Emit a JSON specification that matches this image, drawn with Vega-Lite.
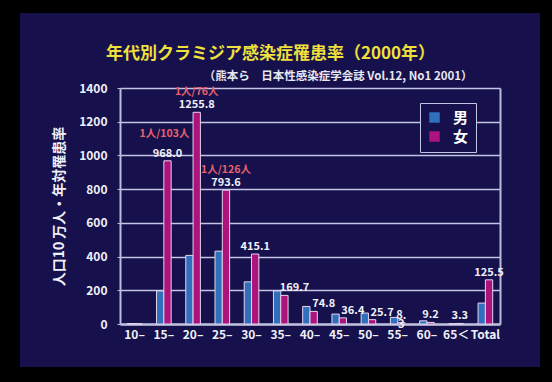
{
  "$schema": "https://vega.github.io/schema/vega-lite/v6.json",
  "width": 520,
  "height": 354,
  "autosize": {"type": "none"},
  "padding": {"left": 20, "top": 13, "right": 12, "bottom": 15},
  "background": "#000000",
  "title": {
    "text": "年代別クラミジア感染症罹患率（2000年）",
    "subtitle": "\u200b\u3000\u3000\u3000\u3000\u3000\u3000\u3000\u3000\u3000（熊本ら　日本性感染症学会誌 Vol.12, No1  2001）",
    "anchor": "start",
    "frame": "group",
    "orient": "top",
    "offset": -70,
    "dx": 86,
    "color": "#f0e03c",
    "fontSize": 17,
    "fontWeight": "bold",
    "font": "Noto Sans CJK JP",
    "subtitleColor": "#e8e8f2",
    "subtitleFontSize": 11.5,
    "subtitleFont": "Noto Sans CJK JP",
    "subtitleFontWeight": "bold",
    "subtitlePadding": 8
  },
  "data": {
    "values": [
      {"cat": "10–", "sex": "男", "value": 3},
      {"cat": "10–", "sex": "女", "value": 2},
      {"cat": "15–", "sex": "男", "value": 196},
      {"cat": "15–", "sex": "女", "value": 968.0, "lab": "968.0", "pos": "c", "ann": "1人/103人"},
      {"cat": "20–", "sex": "男", "value": 407},
      {"cat": "20–", "sex": "女", "value": 1255.8, "lab": "1255.8", "pos": "c", "ann": "1人/76人"},
      {"cat": "25–", "sex": "男", "value": 432},
      {"cat": "25–", "sex": "女", "value": 793.6, "lab": "793.6", "pos": "c", "ann": "1人/126人"},
      {"cat": "30–", "sex": "男", "value": 250},
      {"cat": "30–", "sex": "女", "value": 415.1, "lab": "415.1", "pos": "c"},
      {"cat": "35–", "sex": "男", "value": 196},
      {"cat": "35–", "sex": "女", "value": 169.7, "lab": "169.7", "pos": "r"},
      {"cat": "40–", "sex": "男", "value": 104},
      {"cat": "40–", "sex": "女", "value": 74.8, "lab": "74.8", "pos": "r"},
      {"cat": "45–", "sex": "男", "value": 59},
      {"cat": "45–", "sex": "女", "value": 36.4, "lab": "36.4", "pos": "r"},
      {"cat": "50–", "sex": "男", "value": 65},
      {"cat": "50–", "sex": "女", "value": 25.7, "lab": "25.7", "pos": "r"},
      {"cat": "55–", "sex": "男", "value": 39},
      {"cat": "55–", "sex": "女", "value": 8.3, "lab": "8.\n3", "pos": "c"},
      {"cat": "60–", "sex": "男", "value": 19},
      {"cat": "60–", "sex": "女", "value": 9.2, "lab": "9.2", "pos": "c"},
      {"cat": "65＜", "sex": "男", "value": 2},
      {"cat": "65＜", "sex": "女", "value": 3.3, "lab": "3.3", "pos": "c"},
      {"cat": "Total", "sex": "男", "value": 124},
      {"cat": "Total", "sex": "女", "value": 262, "lab": "125.5", "pos": "c"}
    ]
  },
  "encoding": {
    "x": {
      "field": "cat",
      "type": "nominal",
      "sort": null,
      "scale": {"range": [100, 480], "paddingInner": 0.5, "paddingOuter": 0.25}
    },
    "xOffset": {
      "field": "sex",
      "type": "nominal",
      "sort": ["男", "女"],
      "scale": {"domain": ["男", "女"], "paddingInner": 0, "paddingOuter": 0}
    },
    "y": {
      "field": "value",
      "type": "quantitative",
      "scale": {"domain": [0, 1400], "range": [311, 75], "nice": false, "zero": true}
    }
  },
  "layer": [
    {
      "mark": {"type": "bar", "stroke": "#e2d6ee", "strokeWidth": 1},
      "encoding": {
        "x": {
          "field": "cat",
          "type": "nominal",
          "sort": null,
          "scale": {"range": [100, 480], "paddingInner": 0.5, "paddingOuter": 0.25},
          "axis": {
            "title": null,
            "offset": -43,
            "labelAngle": 0,
            "labelColor": "#f0f0f8",
            "labelFontSize": 12,
            "labelFontWeight": "bold",
            "labelFont": "Noto Sans CJK JP",
            "labelPadding": 5,
            "ticks": false,
            "domainColor": "#bcbcdc",
            "domainWidth": 2.5,
            "grid": false
          }
        },
        "y": {
          "field": "value",
          "type": "quantitative",
          "scale": {"domain": [0, 1400], "range": [311, 75], "nice": false, "zero": true},
          "axis": {
            "orient": "left",
            "offset": -100,
            "values": [0, 200, 400, 600, 800, 1000, 1200, 1400],
            "format": "d",
            "title": "人口10 万人・年対罹患率",
            "titleColor": "#f0f0f8",
            "titleFontSize": 14,
            "titleFontWeight": "bold",
            "titleFont": "Noto Sans CJK JP",
            "titlePadding": 12,
            "labelColor": "#f0f0f8",
            "labelFontSize": 12,
            "labelFontWeight": "bold",
            "labelFont": "Noto Sans CJK JP",
            "labelPadding": 10,
            "ticks": true,
            "tickSize": 3,
            "tickColor": "#bcbcdc",
            "domainColor": "#bcbcdc",
            "domainWidth": 2,
            "grid": true,
            "gridColor": "#c4c4e4",
            "gridWidth": 1.5
          }
        },
        "color": {
          "field": "sex",
          "type": "nominal",
          "scale": {"domain": ["男", "女"], "range": ["#2f6fbc", "#ac137c"]},
          "legend": {
            "title": null,
            "orient": "none",
            "legendX": 400,
            "legendY": 90,
            "fillColor": "#16114c",
            "strokeColor": "#c4c4e4",
            "padding": 7,
            "symbolType": "square",
            "symbolSize": 110,
            "symbolStrokeWidth": 0,
            "labelColor": "#ffffff",
            "labelFontSize": 15,
            "labelFontWeight": "bold",
            "labelFont": "Noto Sans CJK JP",
            "labelOffset": 11,
            "rowPadding": 3
          }
        }
      }
    },
    {
      "transform": [{"filter": "datum.pos == 'c'"}],
      "mark": {"type": "text", "baseline": "alphabetic", "dy": -4, "color": "#f0f0f8", "fontSize": 11, "fontWeight": "bold", "font": "Noto Sans CJK JP", "lineBreak": "\n", "lineHeight": 9},
      "encoding": {
        "text": {"field": "lab"},
        "y": {"field": "value", "type": "quantitative", "axis": null}
      }
    },
    {
      "transform": [{"filter": "datum.pos == 'r'"}],
      "mark": {"type": "text", "baseline": "alphabetic", "dy": -4, "dx": 10, "color": "#f0f0f8", "fontSize": 11, "fontWeight": "bold", "font": "Noto Sans CJK JP"},
      "encoding": {
        "text": {"field": "lab"},
        "y": {"field": "value", "type": "quantitative", "axis": null}
      }
    },
    {
      "transform": [{"filter": "datum.cat == '15–' && isValid(datum.ann)"}],
      "mark": {"type": "text", "baseline": "alphabetic", "dy": -24, "dx": -3, "color": "#e8606c", "fontSize": 10.5, "fontWeight": "bold", "font": "Noto Sans CJK JP"},
      "encoding": {
        "text": {"field": "ann"},
        "y": {"field": "value", "type": "quantitative", "axis": null}
      }
    },
    {
      "transform": [{"filter": "datum.cat != '15–' && isValid(datum.ann)"}],
      "mark": {"type": "text", "baseline": "alphabetic", "dy": -17, "color": "#e8606c", "fontSize": 10.5, "fontWeight": "bold", "font": "Noto Sans CJK JP"},
      "encoding": {
        "text": {"field": "ann"},
        "y": {
          "field": "value",
          "type": "quantitative",
          "axis": {
            "orient": "right",
            "offset": -40,
            "labels": false,
            "ticks": false,
            "grid": false,
            "title": null,
            "domainColor": "#bcbcdc",
            "domainWidth": 2
          }
        }
      }
    }
  ],
  "resolve": {"axis": {"y": "independent"}},
  "config": {
    "view": {"fill": "#16114c", "stroke": null},
    "font": "Noto Sans CJK JP"
  }
}
